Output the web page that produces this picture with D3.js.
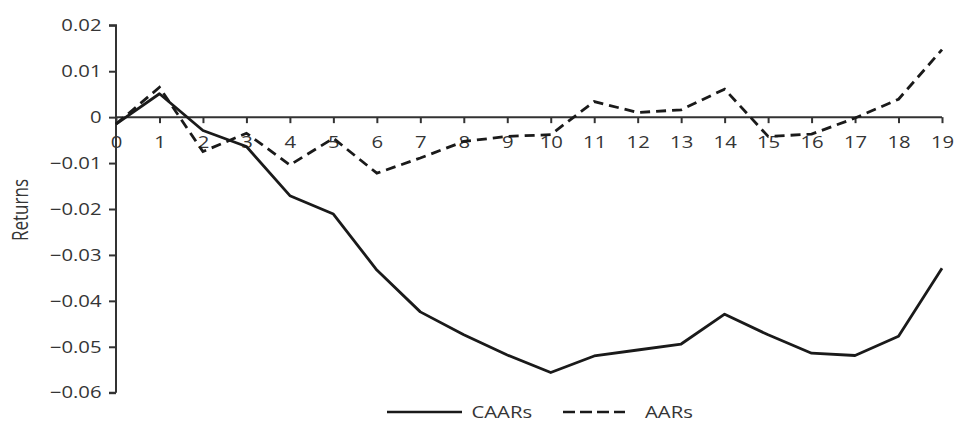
<!DOCTYPE html>
<html>
<head>
<meta charset="utf-8">
<script src="https://cdn.jsdelivr.net/npm/d3@7"></script>
<style>
  body { margin: 0; background: #fff; }
  svg { display: block; }
  text { font-family: "Open Sans", "DejaVu Sans", sans-serif; font-size: 16.5px; fill: #353535; }
</style>
</head>
<body>
<div id="chart"></div>
<script>
var days = [0,1,2,3,4,5,6,7,8,9,10,11,12,13,14,15,16,17,18,19]
var caars = [-0.0015,0.0051,-0.0029,-0.0064,-0.0171,-0.0211,-0.0333,-0.0424,-0.0474,-0.0518,
  -0.0556,-0.0520,-0.0507,-0.0494,-0.0429,-0.0474,-0.0514,-0.0519,-0.0477,-0.0329]
var aars = [-0.0015,0.0065,-0.0075,-0.0035,-0.0104,-0.0046,-0.0122,-0.0089,-0.0053,-0.0042,
  -0.0038,0.0034,0.0010,0.0016,0.0061,-0.0042,-0.0037,-0.0002,0.0039,0.0147]
var yTicks = [0.02,0.01,0,-0.01,-0.02,-0.03,-0.04,-0.05,-0.06]
var seriesNames = ['CAARs', 'AARs']

var width = 955, height = 423
var sx = 1.23 // the source picture is stretched sideways, so is the text
var svg = d3.select('#chart').append('svg')
  .attr('width', width)
  .attr('height', height)

var x = d3.scaleLinear().domain([0, 19]).range([116, 942])
var y = d3.scaleLinear().domain([-0.06, 0.02]).range([392.7, 25.3])

// y axis
var yAxis = svg.append('g')
  .attr('transform', 'translate(' + x(0) + ',0)')
  .call(d3.axisLeft(y).tickValues(yTicks).tickSize(7)
    .tickFormat(function(d) { return d == 0 ? '0' : d3.format('.2f')(d) }))
yAxis.selectAll('path, line').attr('stroke', '#333').attr('stroke-width', 2)
yAxis.select('.domain').attr('d', 'M0,' + y(-0.06) + 'H-7M0,' + y(-0.06) + 'V' + y(0.02) + 'H-7')
yAxis.selectAll('.tick text')
  .attr('x', -14.5 / sx)
  .attr('transform', 'scale(' + sx + ',1)')
  .attr('font-family', null).attr('font-size', null).attr('fill', null)

// x axis sits on zero
var xAxis = svg.append('g')
  .attr('transform', 'translate(0,' + y(0) + ')')
  .call(d3.axisBottom(x).tickValues(days).tickSize(6).tickPadding(13).tickFormat(d3.format('d')))
xAxis.selectAll('path, line').attr('stroke', '#333').attr('stroke-width', 2)
xAxis.select('.domain').attr('d', 'M' + x(0) + ',0H' + x(19))
xAxis.selectAll('.tick text')
  .attr('transform', 'scale(' + sx + ',1)')
  .attr('font-family', null).attr('font-size', null).attr('fill', null)
xAxis.attr('font-family', null).attr('font-size', null)
yAxis.attr('font-family', null).attr('font-size', null)

svg.append('text')
  .attr('transform', 'translate(28,210) scale(' + sx + ',1) rotate(-90)')
  .attr('text-anchor', 'middle')
  .style('font-size', '17px')
  .text('Returns')

var line = d3.line()
  .x(function(d, i) { return x(days[i]) })
  .y(function(d) { return y(d) })

svg.append('path')
  .datum(caars)
  .attr('d', line)
  .attr('fill', 'none')
  .attr('stroke', '#1a1a1a')
  .attr('stroke-width', 2.8)
  .attr('stroke-linejoin', 'round')

svg.append('path')
  .datum(aars)
  .attr('d', line)
  .attr('fill', 'none')
  .attr('stroke', '#1a1a1a')
  .attr('stroke-width', 2.8)
  .attr('stroke-dasharray', '10,6')

// legend
var legend = svg.append('g').attr('transform', 'translate(0,412)')
var legX = [387, 563]
var legW = [75, 62]
var textX = [471.5, 645]
seriesNames.forEach(function(name, i) {
  legend.append('line')
    .attr('x1', legX[i]).attr('x2', legX[i] + legW[i])
    .attr('y1', 0).attr('y2', 0)
    .attr('stroke', '#1a1a1a')
    .attr('stroke-width', 2.6)
    .attr('stroke-dasharray', i == 1 ? '12,5' : null)
  legend.append('text')
    .attr('transform', 'translate(' + textX[i] + ',6) scale(' + sx + ',1)')
    .text(name)
})
</script>
</body>
</html>
